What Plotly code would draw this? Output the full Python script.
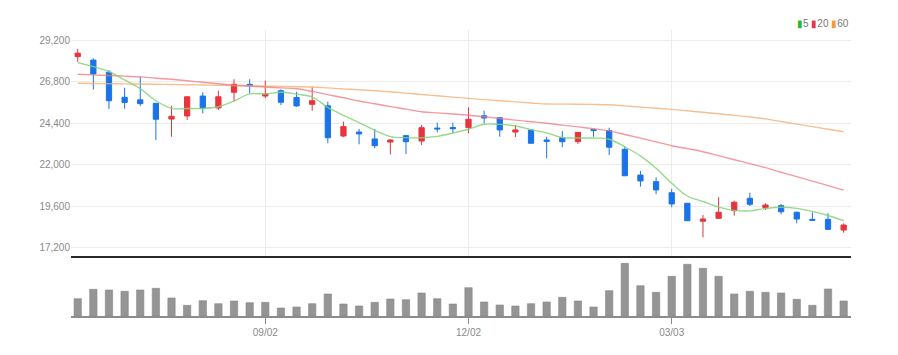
import plotly.graph_objects as go

# ---- data (weekly candles) ----
idx = list(range(50))
tick_pos = [12, 25, 38]
tick_labels = ["09/02", "12/02", "03/03"]

open_ = [28250, 28050, 27350, 25900, 25750, 25550, 24640, 24820, 25970, 25280,
         26190, 26650, 25970, 26280, 25880, 25490, 25410, 23660, 23890, 23490,
         23310, 23680, 23370, 24120, 24150, 24140, 24830, 24720, 23890, 24000,
         23430, 23560, 23330, 24040, 23970, 22890, 21400, 21020, 20380, 19770,
         18730, 18900, 19340, 20060, 19510, 19630, 19250, 18840, 18840, 18220]
high = [28700, 28150, 27480, 26450, 27090, 25570, 25410, 25950, 26190, 26280,
        26940, 26940, 26860, 26360, 26220, 26480, 25640, 24490, 24070, 24070,
        23470, 23720, 24300, 24430, 24430, 25320, 25120, 24730, 24300, 24050,
        23620, 23950, 23880, 24060, 24140, 23040, 21640, 21270, 20600, 19780,
        19090, 20120, 19920, 20380, 19770, 19730, 19290, 19250, 19190, 18610]
low = [27950, 26350, 25220, 25240, 25400, 23430, 23620, 24590, 24970, 25160,
       25640, 26130, 25840, 25450, 25350, 25120, 23240, 23590, 23180, 22950,
       22600, 22620, 23140, 23870, 23810, 23820, 24390, 23620, 23590, 23230,
       22370, 23010, 23200, 23620, 22560, 21350, 20730, 20290, 19540, 18750,
       17800, 18890, 19050, 19610, 19380, 19130, 18610, 18780, 18220, 18070]
close = [28450, 27250, 25700, 25600, 25530, 24630, 24800, 25930, 25260, 25930,
         26650, 26560, 26090, 25610, 25400, 25700, 23560, 24200, 23780, 23100,
         23430, 23330, 24140, 24070, 24080, 24630, 24700, 24010, 24010, 23240,
         23350, 23330, 23870, 23970, 23010, 21360, 21060, 20540, 19730, 18760,
         18860, 19250, 19830, 19710, 19670, 19280, 18860, 18790, 18260, 18510]

ma5 = [27900, 27670, 27380, 26900, 26400, 25700, 25260, 25250, 25250, 25350,
       25680, 26100, 26090, 26190, 26080, 25920, 25310, 24850, 24440, 23990,
       23620, 23565, 23560, 23640, 23830, 24050, 24340, 24330, 24240, 24030,
       23840, 23575, 23545, 23540, 23470, 23030, 22510, 21790, 20930, 20190,
       19870, 19550, 19360, 19330, 19470, 19540, 19475, 19300, 19060, 18770]
ma20 = [27228, 27193, 27159, 27124, 27078, 27002, 26939, 26858, 26765, 26679,
        26598, 26546, 26494, 26441, 26389, 26239, 26054, 25875, 25684, 25528,
        25360, 25215, 25059, 24996, 24932, 24863, 24770, 24672, 24579, 24487,
        24394, 24290, 24186, 24082, 23955, 23747, 23538, 23319, 23099, 22931,
        22752, 22521, 22289, 22064, 21827, 21566, 21306, 21052, 20791, 20531]
ma60 = [26707, 26696, 26684, 26673, 26667, 26655, 26638, 26627, 26609, 26592,
        26574, 26563, 26546, 26528, 26511, 26494, 26441, 26384, 26332, 26274,
        26216, 26141, 26060, 25985, 25909, 25834, 25765, 25701, 25632, 25568,
        25510, 25504, 25499, 25487, 25464, 25400, 25331, 25267, 25198, 25117,
        25030, 24944, 24851, 24759, 24649, 24498, 24348, 24203, 24053, 23908]

volume = [52, 80, 78, 74, 78, 83, 54, 32, 46, 37, 45, 40, 41, 24, 27, 37, 66, 36, 30, 41,
          51, 49, 69, 52, 36, 85, 42, 33, 30, 37, 42, 56, 45, 27, 76, 158, 91, 71, 119, 155,
          143, 119, 66, 74, 71, 69, 50, 32, 81, 45]

price_ticks = [17200, 19600, 22000, 24400, 26800, 29200]

# ---- styles ----
UP = "#e8343c"
DOWN = "#1a74e8"
C5 = "rgba(130,210,120,0.85)"
C20 = "rgba(238,120,125,0.75)"
C60 = "rgba(244,170,110,0.75)"
FONT = "Liberation Sans, Arial, sans-serif"

fig = go.Figure()

for vals, col in [(ma60, C60), (ma20, C20), (ma5, C5)]:
    fig.add_trace(go.Scatter(x=idx, y=vals, mode="lines",
                             line=dict(color=col, width=1.4, shape="spline", smoothing=1.0),
                             hoverinfo="skip", showlegend=False, xaxis="x", yaxis="y"))

fig.add_trace(go.Candlestick(
    x=idx, open=open_, high=high, low=low, close=close,
    increasing=dict(line=dict(color=UP, width=1), fillcolor=UP),
    decreasing=dict(line=dict(color=DOWN, width=1), fillcolor=DOWN),
    whiskerwidth=0, showlegend=False, hoverinfo="skip", xaxis="x", yaxis="y"))

fig.add_trace(go.Bar(x=idx, y=volume, width=0.47,
                     marker=dict(color="#959595", line=dict(color="#888888", width=0.6)),
                     showlegend=False, hoverinfo="skip", xaxis="x2", yaxis="y2"))

plot_h = 286.0
xr = [-0.43, 49.47]

fig.update_layout(
    width=898, height=355,
    margin=dict(l=63, r=55, t=22, b=47),
    paper_bgcolor="white", plot_bgcolor="white",
    boxgap=0.52,
    showlegend=False,
    xaxis=dict(domain=[0, 1], range=xr, anchor="y", rangeslider=dict(visible=False),
               tickmode="array", tickvals=tick_pos, showticklabels=False,
               showgrid=True, gridcolor="#ececec", gridwidth=1, zeroline=False,
               showline=True, linecolor="#2a2a2a", linewidth=2, ticks=""),
    yaxis=dict(domain=[(316 - 256) / plot_h, 1.0], range=[16720, 29790],
               tickmode="array", tickvals=price_ticks, tickformat=",d",
               showgrid=True, gridcolor="#ececec", gridwidth=1, zeroline=False,
               showline=False, ticks="",
               tickfont=dict(family=FONT, size=10, color="#8a8a8a")),
    xaxis2=dict(domain=[0, 1], range=xr, anchor="y2",
                tickmode="array", tickvals=tick_pos, ticktext=tick_labels,
                showgrid=False, zeroline=False, showline=True, linecolor="#8c8c8c", linewidth=2,
                ticks="outside", ticklen=6, tickcolor="#8c8c8c", tickwidth=1,
                tickfont=dict(family=FONT, size=10, color="#8a8a8a")),
    yaxis2=dict(domain=[0, (316 - 259.3) / plot_h], range=[0, 170],
                showgrid=False, zeroline=False, showticklabels=False, showline=False, ticks=""),
    annotations=[dict(
        xref="paper", yref="paper", x=1.0, y=1 + 6 / plot_h, xanchor="right", yanchor="middle",
        showarrow=False,
        text=("<span style='color:#2db52d'>▮</span>5 "
              "<span style='color:#e8343c'>▮</span>20 "
              "<span style='color:#f29a3a'>▮</span>60"),
        font=dict(family=FONT, size=10, color="#777"))],
)

fig.write_html("out.html")
